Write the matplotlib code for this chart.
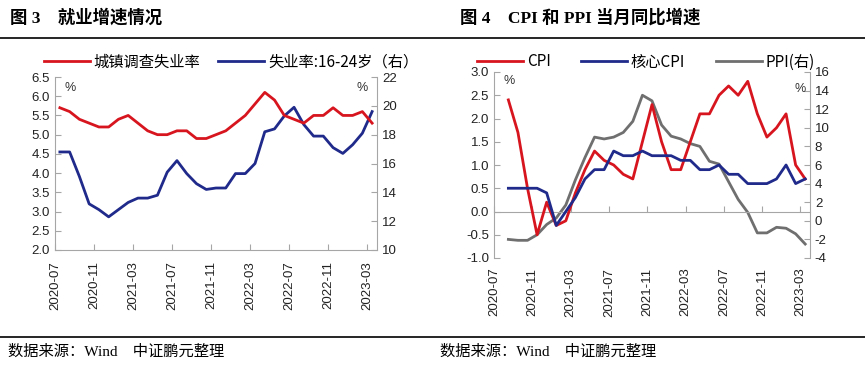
import numpy as np
import matplotlib.pyplot as plt
from matplotlib.lines import Line2D

plt.rcParams['font.family'] = ['Liberation Sans', 'Noto Sans CJK SC', 'DejaVu Sans']
plt.rcParams['axes.unicode_minus'] = False

# month index 0 = 2020-07; points are drawn in the middle of each month cell
tick_labels = ['2020-07', '2020-11', '2021-03', '2021-07', '2021-11',
               '2022-03', '2022-07', '2022-11', '2023-03']

# Fig 3: 2020-07 .. 2023-03
urban_unemp = [5.7, 5.6, 5.4, 5.3, 5.2, 5.2, 5.4, 5.5, 5.3, 5.1, 5.0, 5.0,
               5.1, 5.1, 4.9, 4.9, 5.0, 5.1, 5.3, 5.5, 5.8, 6.1, 5.9, 5.5,
               5.4, 5.3, 5.5, 5.5, 5.7, 5.5, 5.5, 5.6, 5.3]
youth_unemp = [16.8, 16.8, 15.1, 13.2, 12.8, 12.3, 12.8, 13.3, 13.6, 13.6, 13.8, 15.4,
               16.2, 15.3, 14.6, 14.2, 14.3, 14.3, 15.3, 15.3, 16.0, 18.2, 18.4, 19.3,
               19.9, 18.7, 17.9, 17.9, 17.1, 16.7, 17.3, 18.1, 19.6]

# Fig 4: 2020-08 .. 2023-03
cpi = [2.4, 1.7, 0.5, -0.5, 0.2, -0.3, -0.2, 0.4, 0.9, 1.3, 1.1, 1.0,
       0.8, 0.7, 1.5, 2.3, 1.5, 0.9, 0.9, 1.5, 2.1, 2.1, 2.5, 2.7,
       2.5, 2.8, 2.1, 1.6, 1.8, 2.1, 1.0, 0.7]
core_cpi = [0.5, 0.5, 0.5, 0.5, 0.4, -0.3, 0.0, 0.3, 0.7, 0.9, 0.9, 1.3,
            1.2, 1.2, 1.3, 1.2, 1.2, 1.2, 1.1, 1.1, 0.9, 0.9, 1.0, 0.8,
            0.8, 0.6, 0.6, 0.6, 0.7, 1.0, 0.6, 0.7]
ppi = [-2.0, -2.1, -2.1, -1.5, -0.4, 0.3, 1.7, 4.4, 6.8, 9.0, 8.8, 9.0,
       9.5, 10.7, 13.5, 12.9, 10.3, 9.1, 8.8, 8.3, 8.0, 6.4, 6.1, 4.2,
       2.3, 0.9, -1.3, -1.3, -0.7, -0.8, -1.4, -2.5]

RED = '#d7151f'
BLUE = '#1f2a8a'
GRAY = '#6f6f6f'
SPINE = '#a6a6a6'
LW = 2.0

fig = plt.figure(figsize=(8.65, 3.68), dpi=100)

title_font = ['Liberation Serif', 'Noto Sans CJK SC']
fig.text(10 / 865, 1 - 18 / 368, '图 3　就业增速情况', fontsize=12.5, fontweight='bold',
         family=title_font, va='center', ha='left')
fig.text(460 / 865, 1 - 18 / 368, '图 4　CPI 和 PPI 当月同比增速', fontsize=12.5, fontweight='bold',
         family=title_font, va='center', ha='left')
fig.add_artist(Line2D([0, 1], [1 - 38 / 368] * 2, color='black', lw=1.2))
fig.add_artist(Line2D([0, 1], [1 - 337 / 368] * 2, color='black', lw=1.2))
for x in (8, 440):
    fig.text(x / 865, 1 - 352 / 368, '数据来源：Wind　中证鹏元整理', fontsize=11,
             family=['Liberation Serif', 'Noto Sans CJK SC'], va='center', ha='left')


def style_axes(ax, axr):
    for a in (ax, axr):
        a.spines['top'].set_visible(False)
        for s in ('left', 'right', 'bottom'):
            a.spines[s].set_color(SPINE)
            a.spines[s].set_linewidth(0.8)
        a.tick_params(direction='in', color=SPINE, length=4, width=0.8,
                      labelsize=9.5, labelcolor='#222222')
    axr.spines['left'].set_visible(False)
    axr.spines['bottom'].set_visible(False)
    ax.spines['right'].set_visible(False)
    ax.set_xlim(0, 33)
    ax.set_xticks(np.arange(0, 33, 4))
    ax.set_xticklabels(tick_labels, rotation=90, fontsize=9.5)
    ax.tick_params(axis='x', pad=8)


# ---- Fig 3 ----
ax1 = fig.add_axes([55 / 865, 1 - 250 / 368, 322 / 865, 173 / 368])
ax1r = ax1.twinx()
x1 = np.arange(len(urban_unemp)) + 0.5
ax1.plot(x1, urban_unemp, color=RED, lw=LW, solid_joinstyle='round', zorder=3)
ax1r.plot(x1, youth_unemp, color=BLUE, lw=LW, solid_joinstyle='round')
ax1.set_ylim(2.0, 6.5)
ax1.set_yticks(np.arange(2.0, 6.51, 0.5))
ax1.set_yticklabels([f'{v:.1f}' for v in np.arange(2.0, 6.51, 0.5)])
ax1r.set_ylim(10, 22)
ax1r.set_yticks(np.arange(10, 23, 2))
style_axes(ax1, ax1r)
ax1.set_zorder(ax1r.get_zorder() + 1)
ax1.patch.set_visible(False)
ax1.text(0.03, 0.97, '%', transform=ax1.transAxes, fontsize=9, va='top', ha='left', color='#333333')
ax1r.text(0.97, 0.97, '%', transform=ax1r.transAxes, fontsize=9, va='top', ha='right', color='#333333')
h1 = [Line2D([], [], color=RED, lw=LW), Line2D([], [], color=BLUE, lw=LW)]
fig.legend(h1, ['城镇调查失业率', '失业率:16-24岁（右）'], loc='center', ncol=2,
           bbox_to_anchor=(231 / 865, 1 - 62 / 368), frameon=False,
           handlelength=3.0, handletextpad=0.25, columnspacing=1.2,
           prop={'family': ['Noto Sans CJK SC'], 'size': 11})

# ---- Fig 4 ----
ax2 = fig.add_axes([494 / 865, 1 - 258 / 368, 316 / 865, 186 / 368])
ax2r = ax2.twinx()
x2 = np.arange(len(cpi)) + 1.5
ax2r.plot(x2, ppi, color=GRAY, lw=LW, solid_joinstyle='round')
ax2.plot(x2, cpi, color=RED, lw=LW, solid_joinstyle='round', zorder=3)
ax2.plot(x2, core_cpi, color=BLUE, lw=LW, solid_joinstyle='round', zorder=4)
ax2.set_ylim(-1.0, 3.0)
ax2.set_yticks(np.arange(-1.0, 3.01, 0.5))
ax2.set_yticklabels([f'{v:.1f}' for v in np.arange(-1.0, 3.01, 0.5)])
ax2r.set_ylim(-4, 16)
ax2r.set_yticks(np.arange(-4, 17, 2))
style_axes(ax2, ax2r)
ax2.spines['bottom'].set_position(('data', 0))
ax2.tick_params(axis='x', length=4)
ax2.set_zorder(ax2r.get_zorder() + 1)
ax2.patch.set_visible(False)
# the x axis line sits at zero, but the date labels stay under the plot area
ax2.xaxis.set_tick_params(labelbottom=False)
for xv, lab in zip(np.arange(0, 33, 4), tick_labels):
    ax2.annotate(lab, (xv, 0), xycoords=('data', 'axes fraction'), xytext=(0, -7),
                 textcoords='offset points', rotation=90, ha='center', va='top',
                 fontsize=9.5, color='#222222')
ax2.text(0.03, 0.985, '%', transform=ax2.transAxes, fontsize=9, va='top', ha='left', color='#333333')
ax2r.text(0.985, 0.94, '%', transform=ax2r.transAxes, fontsize=9, va='top', ha='right', color='#333333')
h2 = [Line2D([], [], color=RED, lw=LW), Line2D([], [], color=BLUE, lw=LW),
      Line2D([], [], color=GRAY, lw=LW)]
fig.legend(h2, ['CPI', '核心CPI', 'PPI(右)'], loc='center', ncol=3,
           bbox_to_anchor=(646 / 865, 1 - 62 / 368), frameon=False,
           handlelength=3.0, handletextpad=0.25, columnspacing=2.0,
           prop={'family': ['Noto Sans CJK SC'], 'size': 11})

fig.savefig('out.png', dpi=100)
